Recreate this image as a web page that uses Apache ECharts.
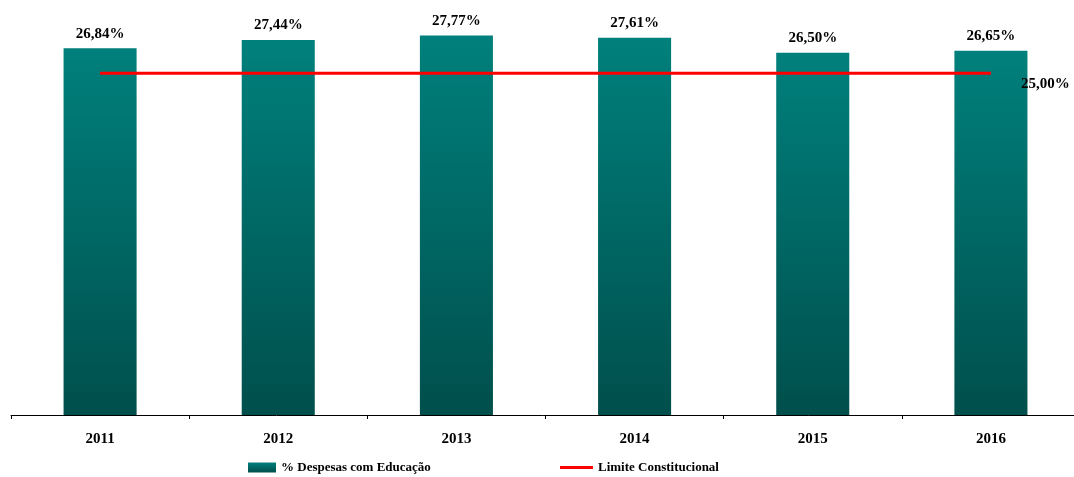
<!DOCTYPE html>
<html>
<head>
<meta charset="utf-8">
<script src="https://cdn.jsdelivr.net/npm/echarts@6/dist/echarts.min.js"></script>
<style>html,body{margin:0;padding:0;background:#fff}#c{width:1074px;height:477px}</style>
</head>
<body>
<div id="c"></div>
<script>
const categories = ['2011', '2012', '2013', '2014', '2015', '2016'];
const despesas = [26.84, 27.44, 27.77, 27.61, 26.50, 26.65];
const limite = [25, 25, 25, 25, 25, 25];
const barName = '% Despesas com Educação';
const lineName = 'Limite Constitucional';

const FONT = '"Liberation Serif", "Times New Roman", serif';
const fmt = v => v.toFixed(2).replace('.', ',') + '%';

const chart = echarts.init(document.getElementById('c'), null, {renderer: 'canvas'});
chart.setOption({
  animation: false,
  backgroundColor: '#ffffff',
  grid: {left: 11, top: 5, width: 1069, bottom: 62, containLabel: false, outerBoundsMode: 'none'},
  legend: [
    {data: [{name: barName, icon: 'rect'}], left: 248, top: 461, padding: 0, itemWidth: 28, itemHeight: 10,
     textStyle: {fontFamily: FONT, fontWeight: 'bold', fontSize: 13, color: '#000'}},
    {data: [{name: lineName, icon: 'rect'}], left: 560, top: 461, padding: 0, itemWidth: 33, itemHeight: 3,
     textStyle: {fontFamily: FONT, fontWeight: 'bold', fontSize: 13, color: '#000'}}
  ],
  xAxis: {
    type: 'category',
    data: categories,
    boundaryGap: true,
    axisLine: {lineStyle: {color: '#000', width: 1}},
    axisTick: {show: true, inside: false, length: 4, lineStyle: {color: '#000'}},
    axisLabel: {fontFamily: FONT, fontWeight: 'bold', fontSize: 15, color: '#000', margin: 17}
  },
  yAxis: {
    type: 'value', min: 0, max: 30, show: false,
    splitLine: {show: false}
  },
  series: [
    {
      name: barName,
      type: 'bar',
      data: despesas,
      barWidth: '41%',
      itemStyle: {
        color: new echarts.graphic.LinearGradient(0, 0, 0, 1, [
          {offset: 0, color: '#00807c'},
          {offset: 1, color: '#004f4c'}
        ])
      },
      label: {
        show: true, position: 'top', distance: 7,
        formatter: p => fmt(p.value),
        fontFamily: FONT, fontWeight: 'bold', fontSize: 15, color: '#000'
      }
    },
    {
      name: lineName,
      type: 'line',
      data: limite,
      symbol: 'none',
      showSymbol: false,
      lineStyle: {color: '#ff0000', width: 3},
      itemStyle: {color: '#ff0000'},
      endLabel: {
        show: true, distance: 5, offset: [25, 11],
        formatter: p => fmt(p.value),
        fontFamily: FONT, fontWeight: 'bold', fontSize: 15, color: '#000'
      },
      z: 5
    }
  ]
});
</script>
</body>
</html>
